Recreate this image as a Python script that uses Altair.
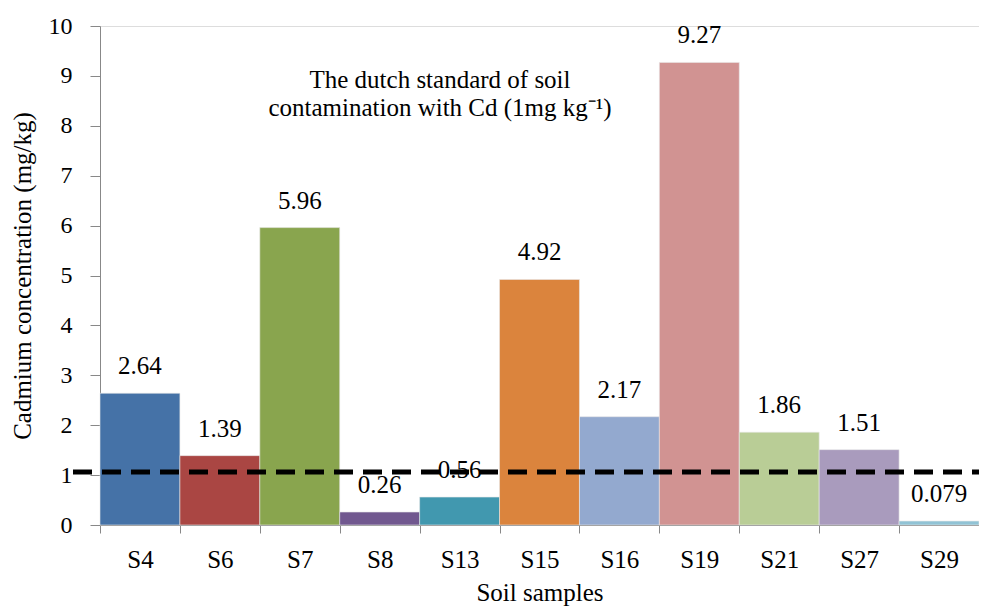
import altair as alt
import pandas as pd

samples = ["S4", "S6", "S7", "S8", "S13", "S15", "S16", "S19", "S21", "S27", "S29"]
values = [2.64, 1.39, 5.96, 0.26, 0.56, 4.92, 2.17, 9.27, 1.86, 1.51, 0.079]
labels = ["2.64", "1.39", "5.96", "0.26", "0.56", "4.92", "2.17", "9.27", "1.86", "1.51", "0.079"]
colors = ["#4572A7", "#AA4643", "#89A54E", "#71588F", "#4198AF", "#DB843D",
          "#93A9CF", "#D19392", "#B9CD96", "#A99BBD", "#91C3D5"]
standard = [1.06]
note_line1 = "The dutch standard of soil"
note_line2 = "contamination with Cd (1mg kg\u207b\u00b9)"

df = pd.DataFrame({"sample": samples, "value": values, "label": labels})
FONT = "Liberation Serif"

x = alt.X("sample:N", sort=samples,
          scale=alt.Scale(paddingInner=0, paddingOuter=0),
          axis=alt.Axis(title="Soil samples", labelAngle=0, tickBand="extent",
                        labelFontSize=25, titleFontSize=25, labelFont=FONT, titleFont=FONT,
                        titleFontWeight="normal", labelColor="#000", titleColor="#000",
                        domainColor="#888", tickColor="#888", tickSize=8,
                        labelPadding=14, titlePadding=8))
y = alt.Y("value:Q", scale=alt.Scale(domain=[0, 10], nice=False),
          axis=alt.Axis(title="Cadmium concentration (mg/kg)", values=list(range(0, 11)),
                        grid=False, labelFontSize=24, titleFontSize=25,
                        labelFont=FONT, titleFont=FONT, titleFontWeight="normal",
                        labelColor="#000", titleColor="#000", domainColor="#888",
                        tickColor="#888", tickSize=10, labelPadding=18, titlePadding=13))

bars = alt.Chart(df).mark_bar(stroke="#e8e8e8", strokeWidth=0.6).encode(
    x=x, y=y,
    color=alt.Color("sample:N", sort=samples,
                    scale=alt.Scale(domain=samples, range=colors), legend=None),
)

text = alt.Chart(df).mark_text(baseline="alphabetic", dy=-19, fontSize=25, font=FONT,
                               color="#000").encode(
    x=alt.X("sample:N", sort=samples), y="value:Q", text="label:N")

rule_df = pd.DataFrame({"y": standard})
rule = alt.Chart(rule_df).mark_rule(color="#000", strokeWidth=5,
                                    strokeDash=[19, 10]).encode(
    y="y:Q", x=alt.value(-27), x2=alt.value(900))

note1 = alt.Chart(pd.DataFrame({"t": [note_line1]})).mark_text(
    fontSize=25, font=FONT, color="#000", align="center").encode(
    text="t:N", x=alt.value(340), y=alt.value(54))
note2 = alt.Chart(pd.DataFrame({"t": [note_line2]})).mark_text(
    fontSize=25, font=FONT, color="#000", align="center").encode(
    text="t:N", x=alt.value(340), y=alt.value(82))

chart = alt.layer(bars, text, rule, note1, note2).properties(
    width=879, height=499,
    autosize=alt.AutoSizeParams(type="none"),
    padding={"left": 92, "top": 18, "right": 0, "bottom": 82},
).configure_view(stroke=None).configure(background="white", font=FONT)

chart.save("out.html", embed_options={"renderer": "svg", "actions": False})
